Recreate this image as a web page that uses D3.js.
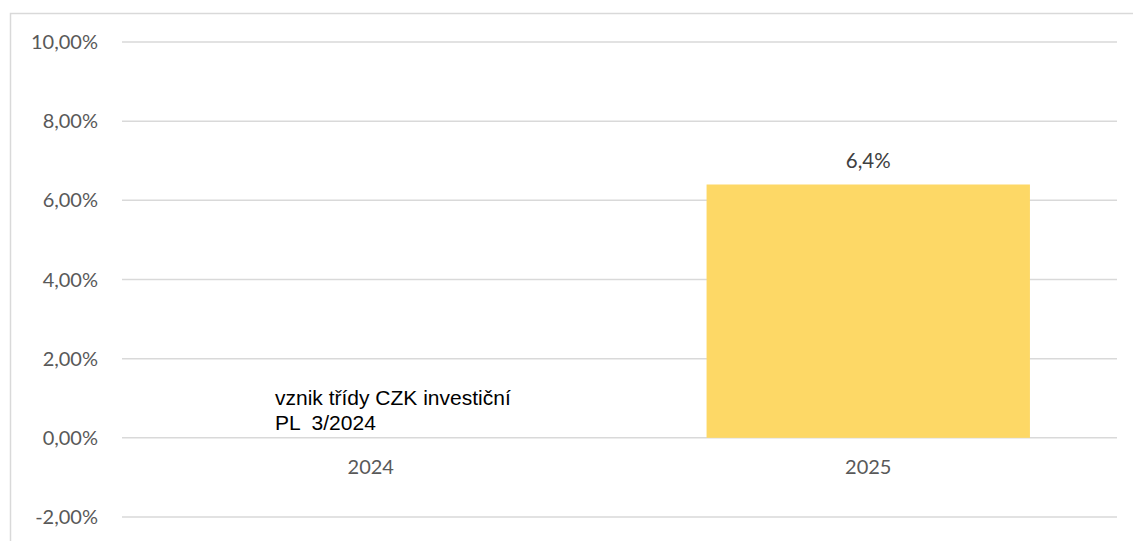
<!DOCTYPE html>
<html>
<head>
<meta charset="utf-8">
<script src="https://cdn.jsdelivr.net/npm/d3@7"></script>
<style>
  body { margin: 0; background: #fff; }
  svg { display: block; }
</style>
</head>
<body>
<div id="chart"></div>
<script>
// data
const years = ["2024", "2025"];
const returns = [null, 6.4];
const yTicks = [-2, 0, 2, 4, 6, 8, 10];
const noteLines = ["vznik třídy CZK investiční", "PL  3/2024"];

const width = 1133, height = 541;
const margin = {top: 42, right: 16, bottom: 24, left: 122};

const svg = d3.select("#chart").append("svg")
  .attr("width", width)
  .attr("height", height);

// chart frame
svg.append("rect")
  .attr("x", 10.5).attr("y", 13.5)
  .attr("width", width + 10).attr("height", height + 10)
  .attr("fill", "none")
  .attr("stroke", "#d9d9d9")
  .attr("stroke-width", 1.5);

let y = d3.scaleLinear()
  .domain([-2, 10])
  .range([517, 42]);

let x = d3.scaleBand()
  .domain(years)
  .range([margin.left, width - margin.right])
  .paddingInner(0.35)
  .paddingOuter(0.175);

// gridlines
svg.append("g").selectAll("line").data(yTicks)
  .enter().append("line")
  .attr("x1", margin.left)
  .attr("x2", width - margin.right)
  .attr("y1", d => y(d))
  .attr("y2", d => y(d))
  .attr("stroke", "#d9d9d9")
  .attr("stroke-width", 1.5);

// y labels
let fmt = d => d.toFixed(2).replace(".", ",") + "%";
svg.append("g").selectAll("text").data(yTicks)
  .enter().append("text")
  .attr("x", 98)
  .attr("y", d => y(d))
  .attr("dy", "0.35em")
  .attr("text-anchor", "end")
  .style("font-family", "Lato, 'Open Sans', sans-serif")
  .style("font-size", "20px")
  .attr("fill", "#595959")
  .text(fmt);

// bars
let barData = years.map((d, i) => ({year: d, value: returns[i]})).filter(d => d.value != null);
svg.append("g").selectAll("rect").data(barData)
  .enter().append("rect")
  .attr("x", d => x(d.year))
  .attr("width", x.bandwidth())
  .attr("y", d => y(d.value))
  .attr("height", d => y(0) - y(d.value))
  .attr("fill", "#fdd866");

// value labels
svg.append("g").selectAll("text").data(barData)
  .enter().append("text")
  .attr("x", d => x(d.year) + x.bandwidth() / 2)
  .attr("y", d => y(d.value) - 24)
  .attr("dy", "0.35em")
  .attr("text-anchor", "middle")
  .style("font-family", "Lato, 'Open Sans', sans-serif")
  .style("font-size", "20.5px")
  .attr("fill", "#404040")
  .text(d => d.value.toFixed(1).replace(".", ",") + "%");

// category labels
svg.append("g").selectAll("text").data(years)
  .enter().append("text")
  .attr("x", d => x(d) + x.bandwidth() / 2)
  .attr("y", y(0) + 29)
  .attr("dy", "0.35em")
  .attr("text-anchor", "middle")
  .style("font-family", "Lato, 'Open Sans', sans-serif")
  .style("font-size", "20px")
  .attr("fill", "#595959")
  .text(d => d);

// annotation
svg.append("g").selectAll("text").data(noteLines)
  .enter().append("text")
  .attr("x", 275)
  .attr("y", (d, i) => 405 + i * 25)
  .style("font-family", "'Liberation Sans', Arial, sans-serif")
  .style("font-size", "21px")
  .attr("fill", "#000")
  .style("white-space", "pre")
  .text(d => d);
</script>
</body>
</html>
